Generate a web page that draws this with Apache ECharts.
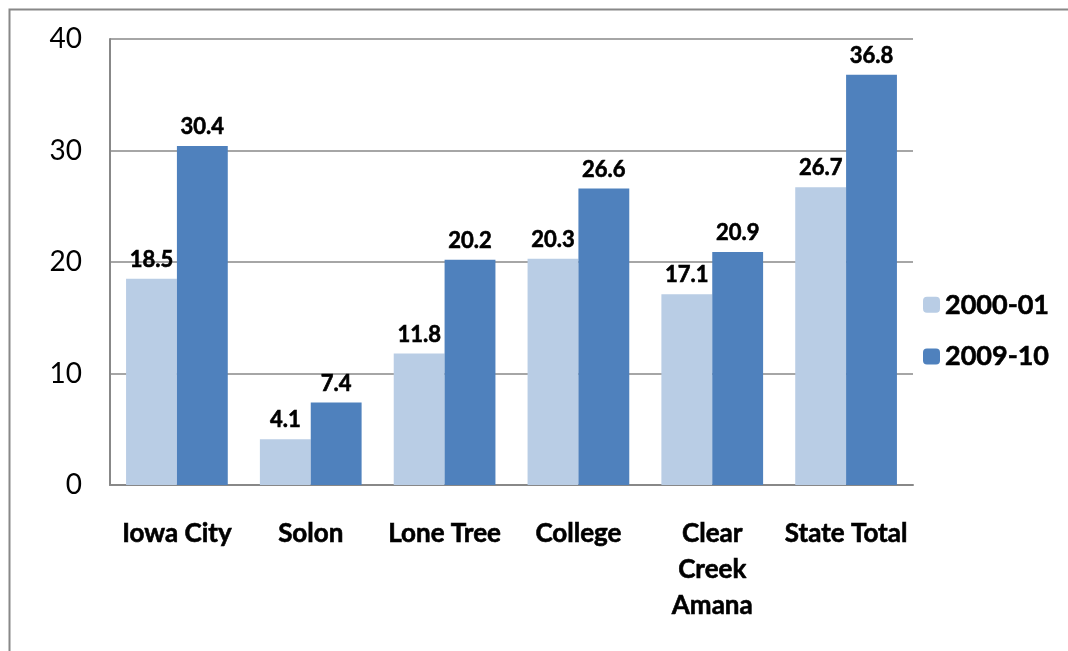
<!DOCTYPE html>
<html>
<head>
<meta charset="utf-8">
<script src="https://cdn.jsdelivr.net/npm/echarts@6/dist/echarts.min.js"></script>
<style>
html,body{margin:0;padding:0;background:#fff;}
#c{width:1068px;height:651px;}
</style>
</head>
<body>
<div id="c"></div>
<script>
const categories = ['Iowa City', 'Solon', 'Lone Tree', 'College', 'Clear\nCreek\nAmana', 'State Total'];
const seriesNames = ['2000-01', '2009-10'];
const values2000 = [18.5, 4.1, 11.8, 20.3, 17.1, 26.7];
const values2009 = [30.4, 7.4, 20.2, 26.6, 20.9, 36.8];
const yTicks = [0, 10, 20, 30, 40];

const FONT = 'Lato, "Open Sans", sans-serif';
const chart = echarts.init(document.getElementById('c'), null, {renderer: 'canvas'});
const labelStyle = {
  show: true, position: 'top', distance: 8,
  fontFamily: FONT, fontWeight: 'bold', fontSize: 22, color: '#000',
  textBorderColor: '#000', textBorderWidth: 0.6,
  formatter: p => p.value.toFixed(1)
};
chart.setOption({
  animation: false,
  graphic: [{
    type: 'rect', left: 7, top: 7,
    shape: {width: 1100, height: 700},
    style: {fill: 'none', stroke: '#888', lineWidth: 2},
    silent: true
  }],
  grid: {left: 110, right: 155, top: 39, bottom: 166, containLabel: false},
  legend: {
    orient: 'vertical', left: 918, top: 286,
    itemWidth: 17, itemHeight: 16, itemGap: 24,
    textStyle: {fontFamily: FONT, fontWeight: 'bold', fontSize: 27, color: '#000',
                textBorderColor: '#000', textBorderWidth: 0.6},
    data: seriesNames
  },
  xAxis: {
    type: 'category', data: categories,
    axisLine: {lineStyle: {color: '#888', width: 2}},
    axisTick: {show: false},
    axisLabel: {
      interval: 0, margin: 31, fontFamily: FONT, fontWeight: 'bold', fontSize: 26,
      color: '#000', lineHeight: 36, textBorderColor: '#000', textBorderWidth: 0.6
    }
  },
  yAxis: {
    type: 'value', min: 0, max: 40, interval: 10,
    axisLine: {show: true, lineStyle: {color: '#888', width: 2}},
    axisTick: {show: false},
    splitLine: {lineStyle: {color: '#888', width: 1.5}},
    axisLabel: {
      margin: 28, fontFamily: FONT, fontSize: 28, color: '#000',
      formatter: v => yTicks.includes(v) ? String(v) : ''
    }
  },
  series: [
    {name: seriesNames[0], type: 'bar', data: values2000, barGap: '0%', barCategoryGap: '24%',
     itemStyle: {color: '#B9CDE5'}, label: labelStyle},
    {name: seriesNames[1], type: 'bar', data: values2009, barGap: '0%', barCategoryGap: '24%',
     itemStyle: {color: '#4F81BD'}, label: labelStyle}
  ]
});
</script>
</body>
</html>
